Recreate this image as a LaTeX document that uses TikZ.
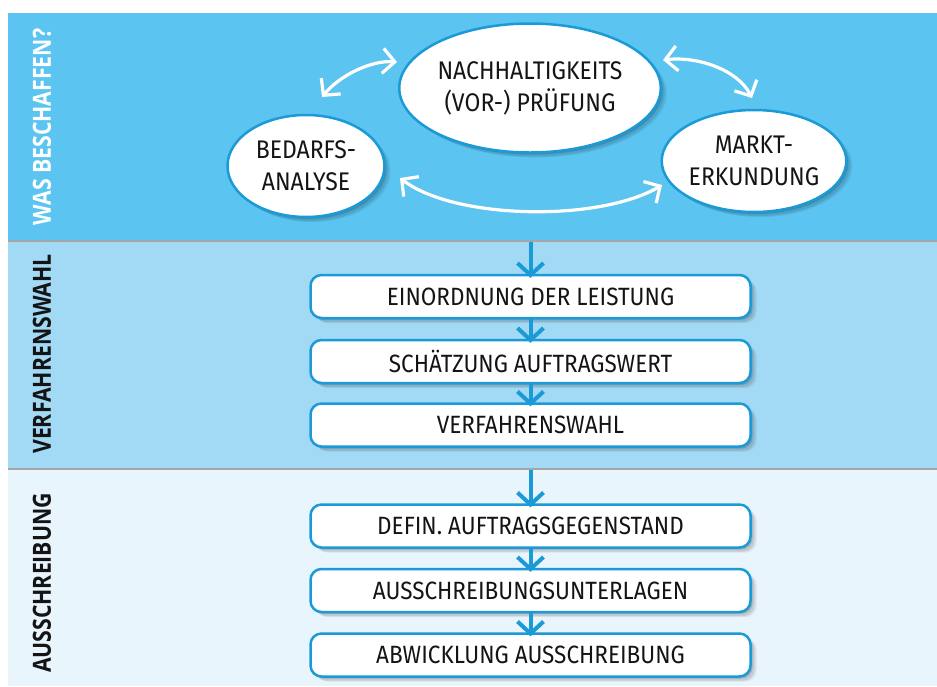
\documentclass[tikz,border=0pt]{standalone}
\usepackage{fontspec}
\setmainfont{Fira Sans}[FakeStretch=0.9]
\newfontfamily\labelfont{Open Sans}[FakeStretch=0.85]
\usetikzlibrary{arrows.meta,shadows,shapes.geometric}
\definecolor{bandA}{HTML}{5BC4F1}
\definecolor{bandB}{HTML}{A2DAF6}
\definecolor{bandC}{HTML}{E8F5FD}
\definecolor{blueline}{HTML}{1A9AD7}
\definecolor{divgray}{HTML}{A6A6A6}
\definecolor{txt}{HTML}{141414}
\tikzset{
  softshadow/.style={
    drop shadow={shadow xshift=2pt,shadow yshift=-2pt,opacity=0.14,fill=black},
    drop shadow={shadow xshift=4pt,shadow yshift=-4pt,opacity=0.10,fill=black},
    drop shadow={shadow xshift=6pt,shadow yshift=-5pt,opacity=0.07,fill=black}},
  ell/.style={ellipse, draw=blueline, line width=2.5pt, fill=white, softshadow,
    align=center, text=txt, inner sep=0pt, font=\fontsize{25.5}{32}\selectfont},
  stepbox/.style={rectangle, rounded corners=11pt, draw=blueline, line width=2.5pt,
    fill=white, softshadow, minimum width=440pt, minimum height=43pt, text=txt,
    inner sep=0pt, font=\fontsize{25}{28}\selectfont},
  bandlabel/.style={rotate=90, font=\labelfont\bfseries\fontsize{25}{25}\selectfont},
  warrow/.style={draw=white, line width=3.2pt,
    {Straight Barb[length=12pt,width=25pt]}-{Straight Barb[length=12pt,width=25pt]}},
  barrow/.style={draw=blueline, line width=4pt, -{Straight Barb[length=12pt,width=26pt]},
    shorten >=-4pt},
}
\begin{document}
\begin{tikzpicture}[x=1pt,y=-1pt]
\useasboundingbox (0,0) rectangle (937,686);
% bands
\fill[bandA] (8,13) rectangle (937,240);
\fill[bandB] (8,240) rectangle (937,468);
\fill[bandC] (8,468) rectangle (937,686);
\draw[divgray, line width=2pt] (8,240.5) -- (937,240.5);
\draw[divgray, line width=2pt] (8,468.5) -- (937,468.5);
% band labels
\node[bandlabel, text=white] (lab1) at (42,127) {WAS BESCHAFFEN?};
\node[bandlabel, text=txt] (lab2) at (42,354) {VERFAHRENSWAHL};
\node[bandlabel, text=txt] (lab3) at (42,583) {AUSSCHREIBUNG};
% ellipses
\node[ell, minimum width=157pt, minimum height=102pt] (bed) at (306,166) {BEDARFS-\\ANALYSE};
\node[ell, minimum width=219pt, minimum height=129pt] (nach) at (530,88) {NACHHALTIGKEITS\\(VOR-) PRÜFUNG};
\node[ell, minimum width=158pt, minimum height=102pt] (markt) at (754,161) {MARKT-\\ERKUNDUNG};
% white curved arrows
\coordinate (a1s) at (322,97);
\coordinate (a1e) at (397,62);
\coordinate (a2s) at (663,60);
\coordinate (a2e) at (752,98);
\coordinate (a3s) at (400,178);
\coordinate (a3e) at (662,185);
\draw[warrow] (a1s) .. controls (340,75) and (372,60) .. (a1e);
\draw[warrow] (a2s) .. controls (698,56) and (738,70) .. (a2e);
\draw[warrow] (a3s) .. controls (455,220) and (600,222) .. (a3e);
% boxes band 2
\node[stepbox] (b1) at (530.5,296.5) {EINORDNUNG DER LEISTUNG};
\node[stepbox] (b2) at (530.5,361.5) {SCHÄTZUNG AUFTRAGSWERT};
\node[stepbox] (b3) at (530.5,425) {VERFAHRENSWAHL};
% boxes band 3
\node[stepbox] (c1) at (530.5,526) {DEFIN. AUFTRAGSGEGENSTAND};
\node[stepbox] (c2) at (530.5,590.5) {AUSSCHREIBUNGSUNTERLAGEN};
\node[stepbox] (c3) at (530.5,655) {ABWICKLUNG AUSSCHREIBUNG};
% blue arrows
\coordinate (d1) at (530.5,241.5);
\coordinate (d2) at (530.5,469.5);
\draw[barrow] (d1) -- (b1.north);
\draw[barrow] (b1.south) -- (b2.north);
\draw[barrow] (b2.south) -- (b3.north);
\draw[barrow] (d2) -- (c1.north);
\draw[barrow] (c1.south) -- (c2.north);
\draw[barrow] (c2.south) -- (c3.north);
\end{tikzpicture}
\end{document}
